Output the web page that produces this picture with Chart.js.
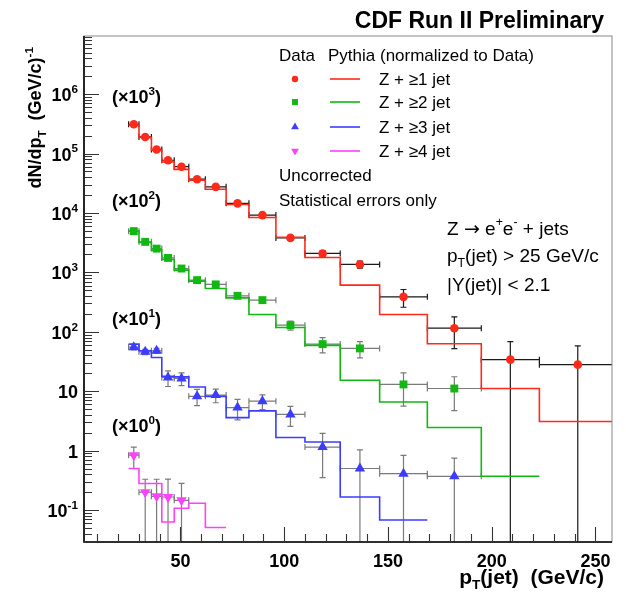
<!DOCTYPE html>
<html>
<head>
<meta charset="utf-8">
<title>CDF Z + jets: jet pT spectra</title>
<script src="https://cdn.jsdelivr.net/npm/chart.js@4.4.1/dist/chart.umd.min.js"></script>
<style>
  html, body { margin: 0; padding: 0; background: #fff; }
  canvas { display: block; }
</style>
</head>
<body>
<canvas id="chart" width="626" height="593"></canvas>
<script>
// jet pT bin edges (GeV/c)
const binEdges = [25, 30, 36, 41, 47, 54, 62, 72, 83, 96, 110, 127, 146, 169, 195, 223, 260];

// Z + >=1 jet, scaled x10^3
const jet1Data = [3.1e5, 1.9e5, 1.17e5, 7.7e4, 6.0e4, 3.7e4, 2.75e4, 1.45e4, 9.2e3, 3.8e3, 2.08e3, 1.36e3, 387, 115, 34, 28];
const jet1Err = [4e3, 3e3, 2.3e3, 1.8e3, 1.6e3, 1.2e3, 1.0e3, 700, 550, 330, 230, 180, 128, 63, 34.5, 30];
const jet1Pythia = [3.0e5, 1.87e5, 1.14e5, 7.2e4, 5.4e4, 3.56e4, 2.5e4, 1.39e4, 8.4e3, 3.9e3, 1.78e3, 610, 195, 63, 11.1, 3.1];

// Z + >=2 jet, scaled x10^2
const jet2Data = [4.94e3, 3.26e3, 2.51e3, 1.75e3, 1.16e3, 740, 627, 403, 341, 129, 62, 52.5, 13, 11.1];
const jet2Err = [100, 80, 70, 60, 45, 35, 33, 25, 23, 22, 18, 16, 7.4, 6.4];
const jet2Pythia = [4.94e3, 3.2e3, 2.37e3, 1.65e3, 1.09e3, 711, 536, 372, 195, 118, 59, 15.3, 6.6, 2.45, 0.37];

// Z + >=3 jet, scaled x10
const jet3Data = [55, 46, 48, 17, 16.4, 8.2, 8.6, 5.3, 6.8, 4.06, 1.15, 0.5, 0.41, 0.37];
const jet3Err = [5.5, 4.6, 4.8, 5, 4, 2.5, 2.2, 2, 1.9, 1.5, 0.8, 0.53, 0.42, 0.38];
const jet3Pythia = [62, 48, 37, 17.9, 17.4, 11.8, 8.2, 3.6, 4.66, 1.66, 1.4, 0.166, 0.068];

// Z + >=4 jet, unscaled (asymmetric errors)
const jet4Data = [0.84, 0.2, 0.17, 0.166, 0.146];
const jet4ErrUp = [0.31, 0.13, 0.16, 0.165, 0.135];
const jet4ErrDown = [0.34, 0.2, 0.17, 0.166, 0.146];
const jet4Pythia = [0.5, 0.28, 0.28, 0.063, 0.107, 0.13, 0.051];

const xTickLabels = [50, 100, 150, 200, 250];
const yDecades = [-1, 0, 1, 2, 3, 4, 5, 6];
const scaleNotes = ['3', '2', '1', '0'];
const seriesNames = ['Z + \u22651 jet', 'Z + \u22652 jet', 'Z + \u22653 jet', 'Z + \u22654 jet'];

const FONT = '"Liberation Sans", Arial, Helvetica, sans-serif';
const SYM_FONT = '"DejaVu Sans", sans-serif';
const colors = ['#ff2a1a', '#12b812', '#3c3cff', '#ff40ff'];
const barColors = ['#1a1a1a', '#7a7a7a', '#7a7a7a', '#7a7a7a'];

function centers(n) {
  return binEdges.slice(0, n).map((e, i) => (e + binEdges[i + 1]) / 2);
}

function histPoints(vals) {
  const pts = vals.map((v, i) => ({ x: binEdges[i], y: v }));
  pts.push({ x: binEdges[vals.length], y: vals[vals.length - 1] });
  return pts;
}

function scatterPoints(vals) {
  const cx = centers(vals.length);
  return vals.map((v, i) => ({ x: cx[i], y: v }));
}

const series = [
  { data: jet1Data, up: jet1Err, down: jet1Err, mc: jet1Pythia, style: 'circle', radius: 4.3, rot: 0 },
  { data: jet2Data, up: jet2Err, down: jet2Err, mc: jet2Pythia, style: 'rect', radius: 5.6, rot: 0 },
  { data: jet3Data, up: jet3Err, down: jet3Err, mc: jet3Pythia, style: 'triangle', radius: 6, rot: 0 },
  { data: jet4Data, up: jet4ErrUp, down: jet4ErrDown, mc: jet4Pythia, style: 'triangle', radius: 6, rot: 180 }
];

const datasets = [];
series.forEach((s, k) => {
  datasets.push({
    type: 'line',
    data: histPoints(s.mc),
    borderColor: colors[k],
    borderWidth: 1.6,
    stepped: true,
    pointRadius: 0,
    fill: false,
    order: 2
  });
  datasets.push({
    type: 'scatter',
    data: scatterPoints(s.data),
    pointStyle: s.style,
    pointRadius: s.radius,
    pointRotation: s.rot,
    pointBackgroundColor: colors[k],
    pointBorderColor: colors[k],
    pointBorderWidth: 0,
    order: 1
  });
});

// text with super/subscripts: parts = [[text, 'sup'|'sub'|'sym'|'']]
function rich(ctx, x, y, parts, size, bold, align) {
  const w = bold ? 'bold ' : '';
  const fontOf = p => {
    const sz = (p[1] === 'sup' || p[1] === 'sub') ? size * 0.65 : size;
    return w + sz + 'px ' + (p[1] === 'sym' ? SYM_FONT : FONT);
  };
  let total = 0;
  parts.forEach(p => {
    ctx.font = fontOf(p);
    total += ctx.measureText(p[0]).width;
  });
  let cx = align === 'right' ? x - total : align === 'center' ? x - total / 2 : x;
  ctx.textAlign = 'left';
  ctx.textBaseline = 'alphabetic';
  parts.forEach(p => {
    ctx.font = fontOf(p);
    let dy = 0;
    if (p[1] === 'sup') dy = -size * 0.45;
    if (p[1] === 'sub') dy = size * 0.25;
    ctx.fillText(p[0], cx, y + dy);
    cx += ctx.measureText(p[0]).width;
  });
}

function drawMarker(ctx, style, x, y, r, rot, color) {
  ctx.fillStyle = color;
  ctx.strokeStyle = color;
  Chart.helpers.drawPoint(ctx, { pointStyle: style, radius: r, rotation: rot, borderWidth: 0 }, x, y);
}

const errorBars = {
  id: 'errorBars',
  beforeDatasetsDraw(chart) {
    const { ctx, chartArea: area } = chart;
    const xs = chart.scales.x, ys = chart.scales.y;
    ctx.save();
    ctx.beginPath();
    ctx.rect(area.left, area.top, area.right - area.left, area.bottom - area.top);
    ctx.clip();
    ctx.lineWidth = 1.2;
    series.forEach((s, k) => {
      ctx.strokeStyle = barColors[k];
      const cx = centers(s.data.length);
      s.data.forEach((v, i) => {
        const xl = xs.getPixelForValue(binEdges[i]);
        const xr = xs.getPixelForValue(binEdges[i + 1]);
        const xc = xs.getPixelForValue(cx[i]);
        const yc = ys.getPixelForValue(v);
        const yt = ys.getPixelForValue(v + s.up[i]);
        const low = v - s.down[i];
        const yb = low > 0 ? ys.getPixelForValue(low) : area.bottom + 4;
        ctx.beginPath();
        ctx.moveTo(xl, yc); ctx.lineTo(xr, yc);
        ctx.moveTo(xl, yc - 3); ctx.lineTo(xl, yc + 3);
        ctx.moveTo(xr, yc - 3); ctx.lineTo(xr, yc + 3);
        ctx.moveTo(xc, yt); ctx.lineTo(xc, yb);
        ctx.moveTo(xc - 3, yt); ctx.lineTo(xc + 3, yt);
        if (low > 0) { ctx.moveTo(xc - 3, yb); ctx.lineTo(xc + 3, yb); }
        ctx.stroke();
      });
    });
    ctx.restore();
  }
};

const frameAndText = {
  id: 'frameAndText',
  afterDraw(chart) {
    const { ctx, chartArea: area } = chart;
    const xs = chart.scales.x, ys = chart.scales.y;
    ctx.save();

    // frame
    ctx.strokeStyle = '#888';
    ctx.lineWidth = 1;
    ctx.strokeRect(area.left, area.top, area.right - area.left, area.bottom - area.top);
    ctx.strokeStyle = '#000';
    ctx.lineWidth = 1.6;
    ctx.beginPath();
    ctx.moveTo(area.left, area.top); ctx.lineTo(area.left, area.bottom); ctx.lineTo(area.right, area.bottom);
    ctx.stroke();

    // log y ticks
    ctx.lineWidth = 1.1;
    ctx.strokeStyle = '#333';
    ctx.beginPath();
    for (let e = -2; e <= 7; e++) {
      for (let m = 1; m <= 9; m++) {
        const v = m * Math.pow(10, e);
        if (v < ys.min || v > ys.max) continue;
        const py = Math.round(ys.getPixelForValue(v)) + 0.5;
        ctx.moveTo(area.left, py);
        ctx.lineTo(area.left + (m === 1 ? 15 : 8), py);
      }
    }
    // x ticks
    for (let v = 10; v <= xs.max; v += 10) {
      const px = Math.round(xs.getPixelForValue(v)) + 0.5;
      ctx.moveTo(px, area.bottom);
      ctx.lineTo(px, area.bottom - (v % 50 === 0 ? 15 : 8));
    }
    ctx.stroke();

    ctx.fillStyle = '#000';
    yDecades.forEach(e => {
      const py = ys.getPixelForValue(Math.pow(10, e)) + 7;
      if (e === 0) rich(ctx, 78, py, [['1', '']], 18, true, 'right');
      else if (e === 1) rich(ctx, 78, py, [['10', '']], 18, true, 'right');
      else rich(ctx, 78, py, [['10', ''], [String(e), 'sup']], 18, true, 'right');
    });
    xTickLabels.forEach(v => {
      rich(ctx, xs.getPixelForValue(v), 567, [[String(v), '']], 18, true, 'center');
    });

    // axis titles
    rich(ctx, 604, 584, [['p', ''], ['T', 'sub'], ['(jet)  (GeV/c)', '']], 21, true, 'right');
    ctx.save();
    ctx.translate(41, 47);
    ctx.rotate(-Math.PI / 2);
    rich(ctx, 0, 0, [['dN/dp', ''], ['T', 'sub'], ['  (GeV/c)', ''], ['-1', 'sup']], 18, true, 'right');
    ctx.restore();

    // title
    rich(ctx, 604, 28, [['CDF Run II Preliminary', '']], 23, true, 'right');

    // scale factors next to each spectrum
    const noteY = [103, 207, 325, 432];
    scaleNotes.forEach((p, i) => {
      rich(ctx, 112, noteY[i], [['(\u00d710', ''], [p, 'sup'], [')', '']], 18, true, 'left');
    });

    // legend
    rich(ctx, 279, 61, [['Data', '']], 17, false, 'left');
    rich(ctx, 328, 61, [['Pythia (normalized to Data)', '']], 17, false, 'left');
    const rowY = [79, 102, 127, 151];
    series.forEach((s, k) => {
      drawMarker(ctx, s.style, 295, rowY[k], s.radius * 0.75, s.rot, colors[k]);
      ctx.strokeStyle = colors[k];
      ctx.lineWidth = 1.6;
      ctx.beginPath();
      ctx.moveTo(330, rowY[k]); ctx.lineTo(360, rowY[k]);
      ctx.stroke();
      ctx.fillStyle = '#000';
      rich(ctx, 379, rowY[k] + 6, [[seriesNames[k], '']], 17, false, 'left');
    });
    rich(ctx, 279, 181, [['Uncorrected', '']], 17, false, 'left');
    rich(ctx, 279, 206, [['Statistical errors only', '']], 17, false, 'left');

    // selection
    rich(ctx, 447, 235, [['Z ', ''], ['\u2192', 'sym'], [' e', ''], ['+', 'sup'], ['e', ''], ['-', 'sup'], [' + jets', '']], 19, false, 'left');
    rich(ctx, 447, 262, [['p', ''], ['T', 'sub'], ['(jet) > 25 GeV/c', '']], 19, false, 'left');
    rich(ctx, 447, 291, [['|Y(jet)| < 2.1', '']], 19, false, 'left');

    ctx.restore();
  }
};

new Chart(document.getElementById('chart'), {
  data: { datasets },
  options: {
    responsive: false,
    animation: false,
    devicePixelRatio: 1,
    layout: { padding: { left: 84, top: 36, right: 14, bottom: 51 } },
    plugins: { legend: { display: false }, tooltip: { enabled: false } },
    scales: {
      x: { type: 'linear', min: 3.5, max: 258, display: false },
      y: { type: 'logarithmic', min: 0.029, max: 9.5e6, display: false }
    }
  },
  plugins: [errorBars, frameAndText]
});
</script>
</body>
</html>
